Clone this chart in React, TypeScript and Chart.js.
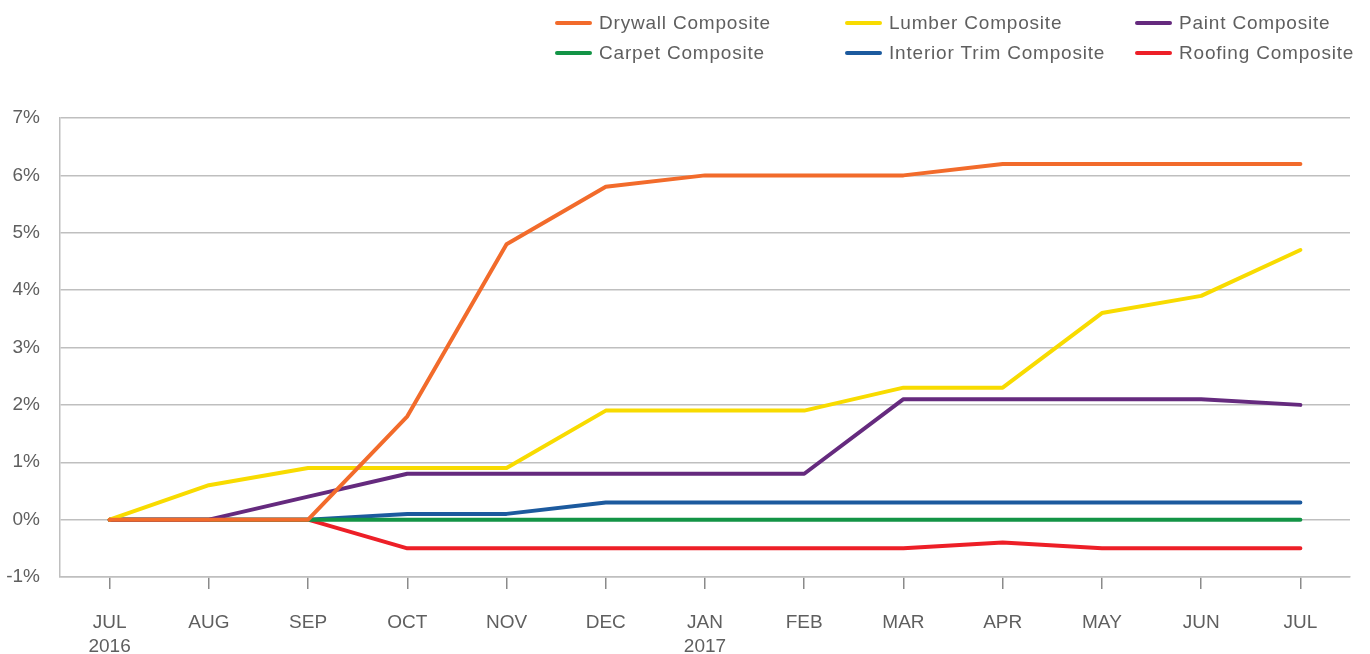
import React, { useEffect, useRef } from "react";
import { Chart, registerables } from "chart.js";

Chart.register(...registerables);

const months: string[][] = [
  ["JUL", "2016"], ["AUG"], ["SEP"], ["OCT"], ["NOV"], ["DEC"],
  ["JAN", "2017"], ["FEB"], ["MAR"], ["APR"], ["MAY"], ["JUN"], ["JUL"],
];

const drywall = [0, 0, 0, 1.8, 4.8, 5.8, 6.0, 6.0, 6.0, 6.2, 6.2, 6.2, 6.2];
const lumber = [0, 0.6, 0.9, 0.9, 0.9, 1.9, 1.9, 1.9, 2.3, 2.3, 3.6, 3.9, 4.7];
const paint = [0, 0, 0.4, 0.8, 0.8, 0.8, 0.8, 0.8, 2.1, 2.1, 2.1, 2.1, 2.0];
const carpet = [0, 0, 0, 0, 0, 0, 0, 0, 0, 0, 0, 0, 0];
const interiorTrim = [0, 0, 0, 0.1, 0.1, 0.3, 0.3, 0.3, 0.3, 0.3, 0.3, 0.3, 0.3];
const roofing = [0, 0, 0, -0.5, -0.5, -0.5, -0.5, -0.5, -0.5, -0.4, -0.5, -0.5, -0.5];

const seriesNames = [
  "Drywall Composite",
  "Lumber Composite",
  "Paint Composite",
  "Carpet Composite",
  "Interior Trim Composite",
  "Roofing Composite",
];
const seriesColors = ["#F26B2B", "#F8DB00", "#652A7E", "#139446", "#1C5A9E", "#ED1F27"];
const seriesData = [drywall, lumber, paint, carpet, interiorTrim, roofing];

const yTicks = [-1, 0, 1, 2, 3, 4, 5, 6, 7];

const FONT = "'Liberation Sans', Arial, sans-serif";
const TEXT = "#5f5f5f";
const GRID = "#bfbfbf";

const legendPlugin = {
  id: "customLegend",
  afterDraw(chart: any) {
    const ctx = chart.ctx;
    const colX = [555, 845, 1135];
    const rowY = [23, 53];
    ctx.save();
    ctx.font = `19px ${FONT}`;
    ctx.textBaseline = "middle";
    ctx.textAlign = "left";
    try {
      ctx.letterSpacing = "0.8px";
    } catch (e) {}
    chart.data.datasets.forEach((ds: any, i: number) => {
      const x = colX[i % 3];
      const y = rowY[Math.floor(i / 3)];
      ctx.strokeStyle = ds.borderColor;
      ctx.lineWidth = 4;
      ctx.lineCap = "round";
      ctx.beginPath();
      ctx.moveTo(x + 2, y);
      ctx.lineTo(x + 35, y);
      ctx.stroke();
      ctx.fillStyle = TEXT;
      ctx.fillText(ds.label, x + 44, y + 1);
    });
    ctx.restore();
  },
};

export default function App() {
  const ref = useRef<HTMLCanvasElement | null>(null);

  useEffect(() => {
    document.body.style.margin = "0";
    if (!ref.current) return;
    const chart = new Chart(ref.current, {
      type: "line",
      data: {
        labels: months,
        datasets: seriesNames.map((name, i) => ({
          label: name,
          data: seriesData[i],
          borderColor: seriesColors[i],
          backgroundColor: seriesColors[i],
          borderWidth: 4,
          pointRadius: 0,
          tension: 0,
          fill: false,
          borderCapStyle: "round" as const,
          borderJoinStyle: "round" as const,
        })),
      },
      options: {
        animation: false,
        responsive: false,
        maintainAspectRatio: false,
        layout: { padding: { top: 118, right: 20, left: 0, bottom: 0 } },
        plugins: {
          legend: { display: false },
          tooltip: { enabled: false },
        },
        scales: {
          x: {
            offset: true,
            afterFit: (axis: any) => {
              axis.height = 77;
            },
            grid: {
              drawOnChartArea: false,
              drawTicks: true,
              tickLength: 12,
              color: "#8a8a8a",
              lineWidth: 1.5,
            },
            border: { display: true, color: GRID, width: 1.5 },
            ticks: {
              padding: 22,
              color: TEXT,
              font: { family: FONT, size: 19, lineHeight: 1.25 },
              maxRotation: 0,
              autoSkip: false,
            },
          },
          y: {
            min: -1,
            max: 7,
            afterFit: (axis: any) => {
              axis.width = 60;
            },
            afterBuildTicks: (axis: any) => {
              axis.ticks = yTicks.map((v) => ({ value: v }));
            },
            grid: {
              drawTicks: false,
              color: GRID,
              lineWidth: 1.5,
            },
            border: { display: true, color: GRID, width: 1.5 },
            ticks: {
              padding: 20,
              color: TEXT,
              font: { family: FONT, size: 19 },
              callback: (v: any) => `${v}%`,
            },
          },
        },
      },
      plugins: [legendPlugin],
    });
    return () => chart.destroy();
  }, []);

  return (
    <div style={{ width: 1370, height: 654, background: "#fff" }}>
      <canvas ref={ref} width={1370} height={654} style={{ display: "block" }} />
    </div>
  );
}
